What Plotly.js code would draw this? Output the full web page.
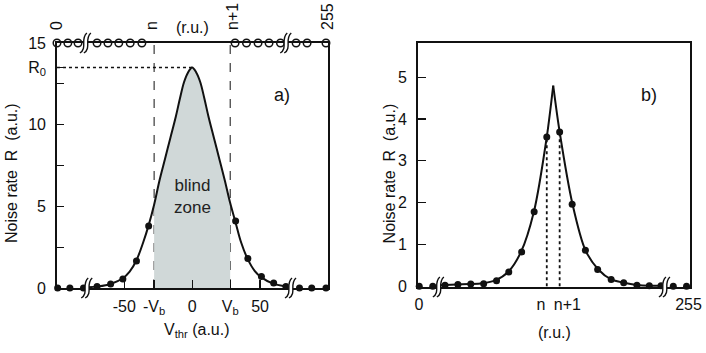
<!DOCTYPE html>
<html>
<head>
<meta charset="utf-8">
<script src="https://cdn.plot.ly/plotly-3.0.1.min.js"></script>
<style>
  html, body { margin: 0; padding: 0; background: #fff; }
  #myDiv { width: 706px; height: 353px; }
</style>
</head>
<body>
<div id="myDiv"></div>
<script>
// panel a) : noise rate vs threshold
var vb = 28;          // blind zone half width
var r0 = 13.5;        // peak rate R0

var curveAX = [-77, -69, -60, -51, -46, -41, -36, -32, -28, -24, -20, -16, -12, -9, -6, -3, 0, 3, 6, 9, 12, 16, 20, 24, 28, 32, 36, 41, 46, 51, 60, 69, 73.5];
var curveAY = [0.05, 0.1, 0.25, 0.6, 1.0, 1.7, 2.8, 3.85, 5.1, 6.6, 7.9, 9.2, 10.5, 11.6, 12.6, 13.2, 13.5, 13.2, 12.6, 11.6, 10.5, 9.2, 7.9, 6.6, 5.2, 4.0, 2.8, 1.75, 1.05, 0.65, 0.25, 0.1, 0.05];

var dotsAX = [-99, -90, -80, -70, -60, -51, -41, -32, 32, 41, 51, 60, 69, 79, 88, 98.5];
var dotsAY = [0, 0, 0, 0.1, 0.25, 0.55, 1.65, 3.8, 4.1, 1.8, 0.7, 0.3, 0.1, 0, 0, 0];

var topAX = [-99.5, -91.5, -84, -70, -62, -54, -45.6, -37, 31.6, 40, 48.5, 56.6, 65, 76.5, 84.6, 98.5];
var topLevel = 15;

var tickAVals = [-50, -vb, 0, vb, 50];
var tickAText = ['-50', '-V<sub>b</sub>', '0', 'V<sub>b</sub>', '50'];
var yTickAVals = [0, 2.5, 5, 7.5, 10, 12.5, r0, 15];
var yTickAText = ['0', '', '5', '', '10', '', 'R<sub>0</sub>', '15'];
var topTickVals = [-99.5, -29.5, 30, 99.5];
var topTickText = ['0', 'n', 'n+1', '255'];

// panel b) : noise rate vs code
var curveBLeftX = [-8.3, -7, -6, -5, -4, -3, -2, -1, 0, 0.5];
var curveBLeftY = [0.02, 0.04, 0.05, 0.07, 0.14, 0.34, 0.82, 1.78, 3.57, 4.8];
var curveBRightX = [0.5, 1, 2, 3, 4, 5, 6, 7, 8, 9.25];
var curveBRightY = [4.8, 3.69, 1.96, 0.86, 0.4, 0.16, 0.08, 0.03, 0.01, 0.01];

var dotsBX = [-9.9, -8.85, -7.9, -6.9, -5.9, -4.9, -3.9, -2.95, -1.95, -0.98, 0, 1, 1.97, 3, 3.95, 5, 5.97, 7, 7.96, 8.87, 9.82, 10.85];
var dotsBY = [0, 0, 0.02, 0.04, 0.05, 0.06, 0.13, 0.34, 0.82, 1.78, 3.57, 3.69, 1.96, 0.86, 0.4, 0.16, 0.08, 0.02, 0.01, 0.01, 0, 0];

var tickBVals = [-9.93, -0.45, 1.6, 11.0];
var tickBText = ['0', 'n', 'n+1', '255'];

// axis breaks: x position and which edge (0 = bottom, 1 = top)
var breaksA = [[-76.5, 0], [73.5, 0], [-77.5, 1], [70, 1]];
var breaksB = [[-8.3, 0], [9.25, 0]];

var domAX = [0.0807, 0.4646], domAY = [0.1841, 0.8782];
var domBX = [0.592, 0.977], domBY = [0.187, 0.8782];

var FONT = 'Liberation Sans, Arial, sans-serif';

// blind zone = part of the curve between -Vb and Vb
var zoneX = [], zoneY = [];
for (var i = 0; i < curveAX.length; i++) {
    if (curveAX[i] >= -vb && curveAX[i] <= vb) {
        zoneX.push(curveAX[i]);
        zoneY.push(curveAY[i]);
    }
}

var zone = {
    x: zoneX, y: zoneY, xaxis: 'x', yaxis: 'y',
    mode: 'lines', line: {shape: 'spline', width: 0, color: 'rgba(0,0,0,0)'},
    fill: 'tozeroy', fillcolor: '#d0d8d8', hoverinfo: 'skip'
};

var curveA = {
    x: curveAX, y: curveAY, xaxis: 'x', yaxis: 'y',
    mode: 'lines', line: {shape: 'spline', smoothing: 1, color: '#111', width: 2},
    cliponaxis: false
};

var dotsA = {
    x: dotsAX, y: dotsAY, xaxis: 'x', yaxis: 'y',
    mode: 'markers', marker: {color: '#111', size: 7},
    cliponaxis: false
};

var topA = {
    x: topAX, y: topAX.map(function(){ return topLevel; }), xaxis: 'x', yaxis: 'y',
    mode: 'markers',
    marker: {color: '#fff', size: 7.5, line: {color: '#111', width: 1.5}},
    cliponaxis: false
};

// dummy trace so the top axis gets drawn
var topAxisTrace = {
    x: [-99.5, 100], y: [0, 0], xaxis: 'x3', yaxis: 'y',
    mode: 'markers', marker: {opacity: 0}, hoverinfo: 'skip'
};

var curveBL = {
    x: curveBLeftX, y: curveBLeftY, xaxis: 'x2', yaxis: 'y2',
    mode: 'lines', line: {shape: 'spline', smoothing: 0.8, color: '#111', width: 2},
    cliponaxis: false
};
var curveBR = {
    x: curveBRightX, y: curveBRightY, xaxis: 'x2', yaxis: 'y2',
    mode: 'lines', line: {shape: 'spline', smoothing: 0.8, color: '#111', width: 2},
    cliponaxis: false
};

var dropN = {
    x: [dotsBX[10], dotsBX[10]], y: [0, dotsBY[10]], xaxis: 'x2', yaxis: 'y2',
    mode: 'lines', line: {dash: 'dot', color: '#111', width: 1.8}
};
var dropN1 = {
    x: [dotsBX[11], dotsBX[11]], y: [0, dotsBY[11]], xaxis: 'x2', yaxis: 'y2',
    mode: 'lines', line: {dash: 'dot', color: '#111', width: 1.8}
};

var dotsB = {
    x: dotsBX, y: dotsBY, xaxis: 'x2', yaxis: 'y2',
    mode: 'markers', marker: {color: '#111', size: 7},
    cliponaxis: false
};

var shapes = [];

// dashed Vb lines and dotted R0 line
shapes.push({type: 'line', xref: 'x', yref: 'y', x0: -vb, x1: -vb, y0: 0, y1: 15,
             line: {color: '#111', width: 1, dash: 'dash'}, layer: 'below'});
shapes.push({type: 'line', xref: 'x', yref: 'y', x0: vb, x1: vb, y0: 0, y1: 15,
             line: {color: '#111', width: 1, dash: 'dash'}, layer: 'below'});
shapes.push({type: 'line', xref: 'x', yref: 'y', x0: -99.5, x1: 0, y0: r0, y1: r0,
             line: {color: '#111', width: 1.3, dash: 'dot'}, layer: 'below'});

// axis break mark, sized in pixels; y given in paper so it is not clipped
function addBreak(xr, x, yPaper) {
    shapes.push({type: 'path', xref: xr, yref: 'paper', xsizemode: 'pixel', ysizemode: 'pixel',
                 xanchor: x, yanchor: yPaper,
                 path: 'M -7,-10 C 1,-5 -7,4 0,10 L 4,10 C -3,4 5,-5 -3,-10 Z',
                 fillcolor: '#fff', line: {width: 0}});
    shapes.push({type: 'path', xref: xr, yref: 'paper', xsizemode: 'pixel', ysizemode: 'pixel',
                 xanchor: x, yanchor: yPaper,
                 path: 'M -7,-10 C 1,-5 -7,4 0,10 M -3,-10 C 5,-5 -3,4 4,10',
                 line: {color: '#111', width: 1.4}});
}
breaksA.forEach(function(b){ addBreak('x', b[0], domAY[b[1]]); });
breaksB.forEach(function(b){ addBreak('x2', b[0], domBY[b[1]]); });

var axisFont = {family: FONT, size: 16, color: '#111'};

function note(xr, yr, x, y, text, extra) {
    var a = {xref: xr, yref: yr, x: x, y: y, text: text, showarrow: false,
             xanchor: 'center', yanchor: 'middle', font: axisFont};
    for (var k in extra) a[k] = extra[k];
    return a;
}

var layout = {
    width: 706, height: 353,
    margin: {l: 0, r: 0, t: 0, b: 0},
    paper_bgcolor: '#fff', plot_bgcolor: '#fff',
    showlegend: false,
    font: {family: FONT, size: 16, color: '#111'},
    xaxis: {
        domain: domAX, range: [-99.5, 100], anchor: 'y',
        showgrid: false, zeroline: false,
        showline: true, linecolor: '#111', linewidth: 1.8, mirror: true,
        tickvals: tickAVals, ticktext: tickAText, tickangle: 0,
        ticks: 'inside', ticklen: 8, tickwidth: 1.3, tickcolor: '#111',
        tickfont: axisFont, ticklabelstandoff: 3
    },
    xaxis3: {
        overlaying: 'x', side: 'top', anchor: 'y',
        range: [-99.5, 100],
        showgrid: false, zeroline: false, showline: false,
        tickvals: topTickVals, ticktext: topTickText, tickangle: -90,
        ticks: '', tickfont: axisFont, ticklabelstandoff: 12
    },
    yaxis: {
        domain: domAY, range: [0, 15], anchor: 'x',
        showgrid: false, zeroline: false,
        showline: true, linecolor: '#111', linewidth: 1.8, mirror: true,
        tickvals: yTickAVals, ticktext: yTickAText,
        ticks: 'inside', ticklen: 7, tickwidth: 1.3, tickcolor: '#111',
        tickfont: axisFont, ticklabelstandoff: 6
    },
    xaxis2: {
        domain: domBX, range: [-10, 11.1], anchor: 'y2',
        showgrid: false, zeroline: false,
        showline: true, linecolor: '#111', linewidth: 1.8, mirror: true,
        tickvals: tickBVals, ticktext: tickBText, tickangle: 0,
        ticks: '', tickfont: axisFont, ticklabelstandoff: 2
    },
    yaxis2: {
        domain: domBY, range: [-0.02, 5.82], anchor: 'x2',
        showgrid: false, zeroline: false,
        showline: true, linecolor: '#111', linewidth: 1.8, mirror: true,
        tickvals: [0, 1, 2, 3, 4, 5],
        ticks: 'inside', ticklen: 8, tickwidth: 1.3, tickcolor: '#111',
        tickfont: axisFont, ticklabelstandoff: 6
    },
    shapes: shapes,
    annotations: [
        note('x', 'paper', 0, 0.9235, '(r.u.)'),
        note('x', 'y', 66, 11.8, 'a)', {font: {family: FONT, size: 18, color: '#111'}}),
        note('x', 'y', 0, 5.6, 'blind<br>zone', {font: {family: FONT, size: 17, color: '#222'}}),
        note('paper', 'paper', 0.017, 0.51, 'Noise rate\u00a0 R\u00a0 (a.u.)', {textangle: -90}),
        note('paper', 'paper', 0.279, 0.065, 'V<sub>thr</sub> (a.u.)'),
        note('x2', 'y2', 7.9, 4.57, 'b)', {font: {family: FONT, size: 18, color: '#111'}}),
        note('paper', 'paper', 0.553, 0.51, 'Noise rate\u00a0 R\u00a0 (a.u.)', {textangle: -90}),
        note('paper', 'paper', 0.786, 0.0567, '(r.u.)')
    ]
};

var data = [zone, curveA, dotsA, topA, topAxisTrace, dropN, dropN1, curveBL, curveBR, dotsB];

Plotly.newPlot('myDiv', data, layout, {staticPlot: true});
</script>
</body>
</html>
